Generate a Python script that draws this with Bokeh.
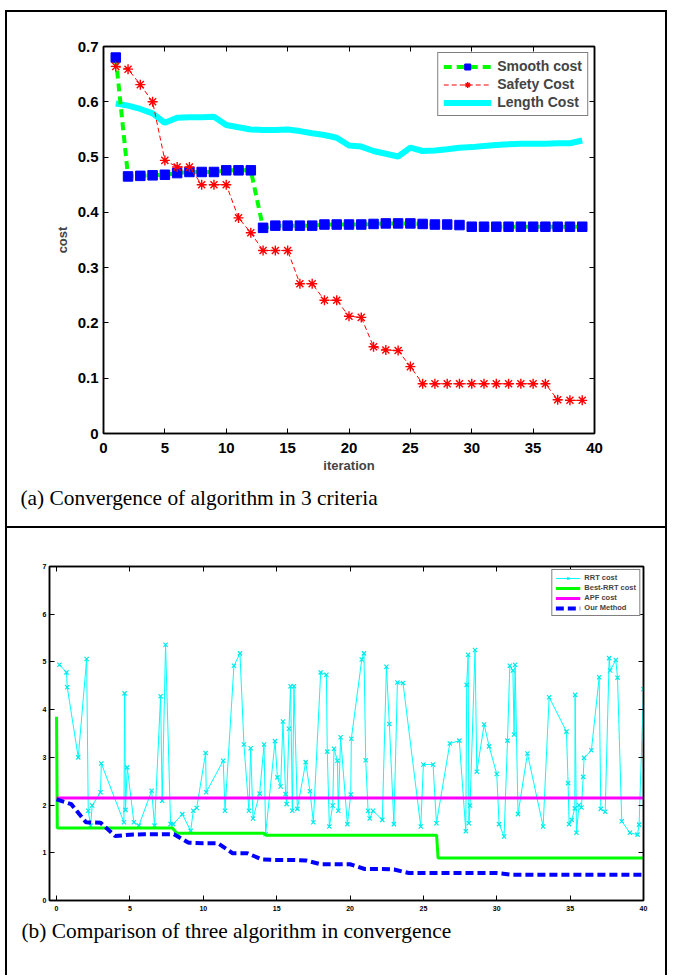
from bokeh.plotting import figure
from bokeh.models import Range1d, LinearAxis, FixedTicker, Legend, LegendItem, Title, Div
from bokeh.layouts import row, column
from bokeh.embed import file_html
from bokeh.resources import INLINE

# ---------------- data: panel (a) ----------------
iteration = list(range(1, 40))
smooth_cost = [0.680, 0.465, 0.466, 0.467, 0.468, 0.471, 0.473, 0.473, 0.473, 0.476,
               0.476, 0.476, 0.372, 0.376, 0.376, 0.376, 0.376, 0.378, 0.378, 0.378,
               0.378, 0.379, 0.380, 0.380, 0.380, 0.379, 0.378, 0.378, 0.377, 0.374,
               0.374, 0.374, 0.374, 0.374, 0.374, 0.374, 0.374, 0.374, 0.374]
safety_cost = [0.664, 0.659, 0.631, 0.600, 0.494, 0.482, 0.482, 0.450, 0.450, 0.450,
               0.390, 0.363, 0.331, 0.331, 0.331, 0.271, 0.271, 0.241, 0.241, 0.212,
               0.210, 0.157, 0.151, 0.150, 0.121, 0.090, 0.090, 0.090, 0.090, 0.090,
               0.090, 0.090, 0.090, 0.090, 0.090, 0.090, 0.061, 0.060, 0.060]
length_cost = [0.597, 0.593, 0.587, 0.579, 0.562, 0.571, 0.572, 0.572, 0.573, 0.558,
               0.554, 0.550, 0.549, 0.549, 0.550, 0.547, 0.543, 0.540, 0.535, 0.521,
               0.519, 0.511, 0.506, 0.501, 0.517, 0.511, 0.512, 0.514, 0.517, 0.518,
               0.520, 0.522, 0.523, 0.524, 0.524, 0.524, 0.525, 0.525, 0.530]
a_x_ticks = [0, 5, 10, 15, 20, 25, 30, 35, 40]
a_y_ticks = [0, 0.1, 0.2, 0.3, 0.4, 0.5, 0.6, 0.7]
a_y_labels = ["0", "0.1", "0.2", "0.3", "0.4", "0.5", "0.6", "0.7"]

# ---------------- data: panel (b) ----------------
rrt_x = [0.2, 0.68, 0.73, 1.48, 2.05, 2.16, 2.32, 2.43, 3.0, 3.05,
         4.59, 4.64, 4.7, 4.82, 5.27, 5.61, 6.48, 6.68, 7.09, 7.2,
         7.43, 7.77, 7.95, 8.57, 9.14, 9.32, 9.55, 10.16, 10.2, 11.36,
         11.48, 12.09, 12.5, 12.77, 13.11, 13.23, 13.39, 13.84, 14.14, 14.25,
         14.89, 15.05, 15.27, 15.43, 15.61, 15.68, 15.84, 15.95, 16.07, 16.18,
         16.41, 16.98, 17.27, 17.5, 18.0, 18.39, 18.45, 18.59, 18.82, 18.91,
         19.14, 19.2, 19.36, 19.82, 20.05, 20.09, 20.8, 20.95, 21.07, 21.23,
         21.34, 21.57, 22.2, 22.48, 22.68, 22.99, 23.23, 23.61, 24.82, 25.0,
         25.66, 25.89, 26.8, 27.45, 27.89, 27.95, 28.05, 28.1, 28.18, 28.52,
         28.64, 29.14, 29.48, 30.0, 30.16, 30.5, 30.73, 30.89, 31.1, 31.18,
         31.25, 31.45, 32.09, 33.16, 33.57, 34.75, 34.86, 34.93, 35.11, 35.32,
         35.34, 35.43, 35.61, 35.77, 35.89, 35.95, 36.45, 36.98, 37.09, 37.39,
         37.66, 37.73, 38.11, 38.23, 38.52, 39.07, 39.59, 39.7, 40.0]
rrt_y = [4.94, 4.78, 4.47, 3.0, 5.06, 1.88, 1.57, 1.99, 2.27, 2.87,
         1.64, 4.34, 1.9, 2.79, 1.64, 1.57, 2.3, 1.57, 4.28, 2.09,
         5.36, 1.6, 1.6, 1.81, 1.46, 1.88, 1.94, 3.09, 2.27, 2.93,
         1.88, 4.92, 5.18, 3.27, 1.88, 3.19, 1.72, 2.24, 3.27, 1.39,
         3.34, 2.58, 2.39, 3.75, 2.23, 2.02, 3.6, 4.49, 1.88, 4.49,
         1.92, 2.9, 2.29, 1.64, 4.78, 4.73, 3.12, 1.55, 1.99, 3.18,
         2.93, 1.88, 3.42, 1.6, 2.22, 3.39, 5.05, 5.18, 2.94, 1.88,
         1.72, 1.88, 1.69, 4.9, 3.7, 1.6, 4.57, 4.56, 1.55, 2.85,
         2.85, 1.62, 3.29, 3.35, 1.45, 4.52, 5.15, 1.62, 1.99, 5.25,
         2.7, 3.69, 3.23, 2.65, 1.6, 1.34, 3.35, 4.92, 4.82, 3.48,
         4.94, 1.81, 3.08, 1.55, 4.26, 3.54, 2.46, 1.6, 1.69, 1.93,
         4.31, 1.42, 2.0, 1.95, 2.59, 2.99, 3.15, 4.68, 1.92, 1.86,
         5.08, 4.82, 5.04, 4.67, 1.66, 1.42, 1.38, 1.59, 4.43]
best_x = [0, 0.05, 7.9, 8.2, 14.1, 14.3, 25.9, 26.0, 40]
best_y = [3.85, 1.52, 1.52, 1.41, 1.41, 1.37, 1.37, 0.89, 0.89]
apf_x = [0, 40]
apf_y = [2.15, 2.15]
ours_x = list(range(0, 41))
ours_y = [2.12, 2.02, 1.64, 1.63, 1.35, 1.38, 1.39, 1.39, 1.39, 1.21,
          1.20, 1.20, 0.99, 0.99, 0.86, 0.85, 0.85, 0.84, 0.76, 0.76,
          0.76, 0.66, 0.66, 0.65, 0.575, 0.575, 0.575, 0.575, 0.575, 0.575,
          0.575, 0.54, 0.54, 0.54, 0.54, 0.54, 0.54, 0.54, 0.54, 0.54, 0.54]
b_x_ticks = [0, 5, 10, 15, 20, 25, 30, 35, 40]
b_y_ticks = [0, 1, 2, 3, 4, 5, 6, 7]

SANS = "Liberation Sans"
SERIF = "Liberation Serif"


def style_axis(ax, ticks, size, standoff, show_labels=True, overrides=None):
    ax.ticker = FixedTicker(ticks=ticks)
    ax.minor_tick_line_color = None
    ax.major_tick_in = 5
    ax.major_tick_out = 0
    ax.axis_line_color = "black"
    ax.axis_line_width = 1.5
    ax.major_tick_line_width = 1
    ax.major_label_text_font = SANS
    ax.major_label_text_font_style = "bold"
    ax.major_label_text_font_size = size
    ax.major_label_standoff = standoff
    ax.major_label_text_color = "black" if show_labels else None
    if overrides:
        ax.major_label_overrides = overrides


def no_align(p):
    try:
        p.frame_align = False
    except Exception:
        pass


# ---------------- panel (a) ----------------
pa = figure(width=658, height=514, x_range=Range1d(0, 40), y_range=Range1d(0, 0.7),
            output_backend="svg", toolbar_location=None,
            min_border_left=96, min_border_right=71, min_border_top=34, min_border_bottom=93)
no_align(pa)
pa.grid.visible = False
pa.outline_line_color = "black"
pa.outline_line_width = 1.5
pa.add_layout(LinearAxis(), "above")
pa.add_layout(LinearAxis(), "right")
ovr = {t: l for t, l in zip(a_y_ticks, a_y_labels)}
style_axis(pa.below[0], a_x_ticks, "15px", 9)
style_axis(pa.left[0], a_y_ticks, "15px", 5, overrides=ovr)
style_axis(pa.above[0], a_x_ticks, "15px", 0, show_labels=False)
style_axis(pa.right[0], a_y_ticks, "15px", 0, show_labels=False)
for ax, lab, so in ((pa.below[0], "iteration", 2), (pa.left[0], "cost", 5)):
    ax.axis_label = lab
    ax.axis_label_text_font = SANS
    ax.axis_label_text_font_style = "bold"
    ax.axis_label_text_font_size = "13px"
    ax.axis_label_standoff = so

r_len = pa.line(iteration, length_cost, line_color="#00ffff", line_width=6)
r_sm_l = pa.line(iteration, smooth_cost, line_color="#00ff00", line_width=4, line_dash="8 5")
r_sm_m = pa.scatter(iteration, smooth_cost, marker="square", size=9.5,
                    fill_color="#0000ff", line_color="#0000ff")
r_sf_l = pa.line(iteration, safety_cost, line_color="#ff0000", line_width=1, line_dash="5 3")
r_sf_m = pa.scatter(iteration, safety_cost, marker="asterisk", size=10,
                    line_color="#ff0000", line_width=1.4)

leg_a = Legend(items=[LegendItem(label="Smooth cost", renderers=[r_sm_l, r_sm_m]),
                      LegendItem(label="Safety Cost", renderers=[r_sf_l, r_sf_m]),
                      LegendItem(label="Length Cost", renderers=[r_len])],
               location="top_right", margin=6, padding=5, spacing=2,
               glyph_width=48, glyph_height=15, label_height=15, label_standoff=6,
               label_text_font=SANS, label_text_font_style="bold", label_text_font_size="14px",
               border_line_color="black", border_line_width=1, background_fill_alpha=1)
pa.add_layout(leg_a)
pa.add_layout(Title(text="(a) Convergence of algorithm in 3 criteria", align="left",
                    offset=-83, standoff=16, text_font=SERIF, text_font_size="21.4px",
                    text_font_style="normal", text_color="black"), "below")

# ---------------- panel (b) ----------------
pb = figure(width=658, height=447, x_range=Range1d(-0.48, 40), y_range=Range1d(0, 7),
            output_backend="svg", toolbar_location=None,
            min_border_left=42, min_border_right=22, min_border_top=38, min_border_bottom=75)
no_align(pb)
pb.grid.visible = False
pb.outline_line_color = "black"
pb.outline_line_width = 1.5
pb.add_layout(LinearAxis(), "above")
pb.add_layout(LinearAxis(), "right")
style_axis(pb.below[0], b_x_ticks, "7px", 5)
style_axis(pb.left[0], b_y_ticks, "7px", 3)
style_axis(pb.above[0], b_x_ticks, "7px", 0, show_labels=False)
style_axis(pb.right[0], b_y_ticks, "7px", 0, show_labels=False)

r_rrt_l = pb.line(rrt_x, rrt_y, line_color="#00ffff", line_width=1)
r_rrt_m = pb.scatter(rrt_x, rrt_y, marker="x", size=6, line_color="#00e8e8", line_width=1.2)
r_best = pb.line(best_x, best_y, line_color="#00ff00", line_width=3)
r_apf = pb.line(apf_x, apf_y, line_color="#ff00ff", line_width=3)
r_ours = pb.line(ours_x, ours_y, line_color="#0000ff", line_width=4, line_dash="8 4")

leg_b = Legend(items=[LegendItem(label="RRT cost", renderers=[r_rrt_l, r_rrt_m]),
                      LegendItem(label="Best-RRT cost", renderers=[r_best]),
                      LegendItem(label="APF cost", renderers=[r_apf]),
                      LegendItem(label="Our Method", renderers=[r_ours])],
               location="top_right", margin=3, padding=3, spacing=1,
               glyph_width=25, glyph_height=8, label_height=8, label_standoff=4,
               label_text_font=SANS, label_text_font_style="bold", label_text_font_size="7.5px",
               border_line_color="black", border_line_width=1, background_fill_alpha=1)
pb.add_layout(leg_b)
pb.add_layout(Title(text="(b) Comparison of three algorithm in convergence", align="left",
                    offset=-28, standoff=7, text_font=SERIF, text_font_size="21.4px",
                    text_font_style="normal", text_color="black"), "below")


# ---------------- table borders ----------------
def bar(w, h, color="black"):
    return Div(text="", width=w, height=h, margin=0, styles={"background-color": color})


middle = column(bar(658, 10, "white"), bar(658, 2), pa, bar(658, 2), pb, spacing=0)
left = column(bar(2, 10, "white"), bar(2, 965), spacing=0)
right = column(bar(2, 10, "white"), bar(2, 965), spacing=0)
page = row(bar(5, 975, "white"), left, middle, right, spacing=0)

open("out.html", "w").write(file_html(page, INLINE))
